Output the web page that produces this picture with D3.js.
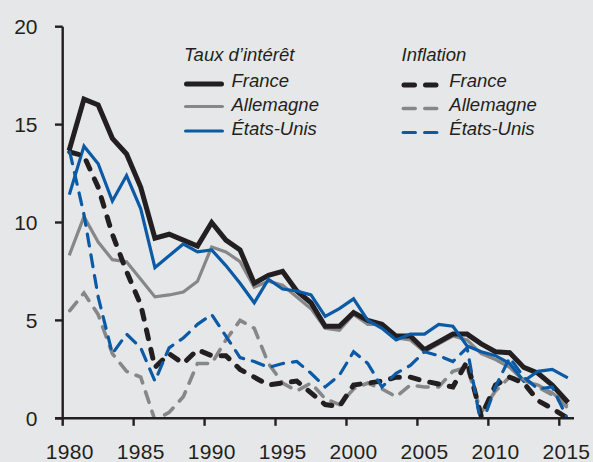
<!DOCTYPE html>
<html>
<head>
<meta charset="utf-8">
<script src="https://cdn.jsdelivr.net/npm/d3@7"></script>
<style>
  html, body { margin: 0; padding: 0; background: #e6e7e8; }
  svg { display: block; }
  text { font-family: "Liberation Sans", Arial, sans-serif; fill: #231f20; }
</style>
</head>
<body>
<svg id="chart" width="593" height="462"></svg>
<script>
const years = d3.range(1980, 2016);
const xTicks = [1980, 1985, 1990, 1995, 2000, 2005, 2010, 2015];
const yTicks = [0, 5, 10, 15, 20];

// Taux d'intérêt (long terme)
const rateFrance    = [13.8, 16.3, 16.0, 14.3, 13.5, 11.8, 9.2, 9.4, 9.1, 8.8, 10.0, 9.1, 8.6, 6.9, 7.3, 7.5, 6.5, 5.9, 4.7, 4.7, 5.4, 5.0, 4.8, 4.2, 4.2, 3.5, 3.9, 4.3, 4.3, 3.8, 3.4, 3.35, 2.6, 2.3, 1.7, 0.9];
const rateAllemagne = [8.4, 10.3, 9.0, 8.1, 8.0, 7.1, 6.2, 6.3, 6.45, 7.0, 8.75, 8.5, 8.0, 6.7, 7.0, 6.8, 6.2, 5.6, 4.6, 4.5, 5.3, 4.8, 4.8, 4.1, 4.0, 3.4, 3.8, 4.2, 4.0, 3.3, 3.0, 2.6, 1.9, 1.7, 1.3, 0.7];
const rateEtatsUnis = [11.5, 13.9, 13.0, 11.1, 12.4, 10.7, 7.7, 8.3, 8.9, 8.5, 8.6, 7.8, 6.9, 5.9, 7.1, 6.6, 6.5, 6.3, 5.2, 5.6, 6.1, 5.0, 4.6, 4.0, 4.3, 4.3, 4.8, 4.7, 3.7, 3.4, 3.2, 2.8, 1.9, 2.4, 2.5, 2.1];

// Inflation
const infFrance     = [13.6, 13.4, 11.8, 9.4, 7.5, 5.8, 2.6, 3.3, 2.8, 3.5, 3.2, 3.2, 2.5, 2.1, 1.7, 1.8, 1.9, 1.3, 0.7, 0.6, 1.7, 1.8, 1.9, 2.1, 2.1, 1.9, 1.75, 1.6, 2.9, 0.1, 1.7, 2.1, 1.8, 0.9, 0.5, 0.05];
const infAllemagne  = [5.5, 6.4, 5.3, 3.3, 2.4, 2.1, -0.1, 0.3, 1.1, 2.8, 2.8, 4.0, 5.0, 4.6, 2.8, 1.8, 1.4, 1.8, 1.0, 0.7, 1.5, 1.8, 1.5, 1.1, 1.7, 1.6, 1.6, 2.4, 2.6, 0.3, 1.4, 2.1, 2.0, 1.6, 1.2, 0.6];
const infEtatsUnis  = [13.6, 10.4, 6.2, 3.3, 4.3, 3.6, 1.9, 3.6, 4.1, 4.8, 5.3, 4.2, 3.1, 2.9, 2.6, 2.8, 2.9, 2.3, 1.6, 2.2, 3.4, 2.8, 1.6, 2.3, 2.7, 3.4, 3.2, 2.9, 3.6, -0.4, 1.6, 3.1, 2.1, 1.5, 1.6, 0.1];

const seriesNames = ["France", "Allemagne", "États-Unis"];
const colors = { "France": "#231f20", "Allemagne": "#878787", "États-Unis": "#0a5aa6" };

const solidStyle = {
  "France":     { width: 5,   dash: null },
  "Allemagne":  { width: 3.2, dash: null },
  "États-Unis": { width: 3.2, dash: null }
};
const dashStyle = {
  "France":     { width: 5,   dash: "9,11" },
  "Allemagne":  { width: 3.6, dash: "11,9.5" },
  "États-Unis": { width: 3.2, dash: "12,9" }
};

const rates = { "France": rateFrance, "Allemagne": rateAllemagne, "États-Unis": rateEtatsUnis };
const infl  = { "France": infFrance,  "Allemagne": infAllemagne,  "États-Unis": infEtatsUnis };

const svg = d3.select("#chart");
svg.append("rect").attr("width", 593).attr("height", 462).attr("fill", "#e6e7e8");

const x = d3.scaleLinear().domain([1980, 2015]).range([62.7, 559.3]);
const y = d3.scaleLinear().domain([0, 20]).range([418.3, 26.7]);

svg.append("defs").append("clipPath").attr("id", "plot")
  .append("rect").attr("x", 55).attr("y", 0).attr("width", 538).attr("height", y(0) - 0);

const line = d3.line().x(d => x(d.year + 0.5)).y(d => y(d.v));

const gLines = svg.append("g").attr("clip-path", "url(#plot)");

function drawSeries(data, style, color, cap) {
  const pts = years.map((yr, i) => ({ year: yr, v: data[i] }));
  gLines.append("path")
    .datum(pts)
    .attr("d", line)
    .attr("fill", "none")
    .attr("stroke", color)
    .attr("stroke-width", style.width)
    .attr("stroke-linejoin", "miter")
    .attr("stroke-miterlimit", 6)
    .attr("stroke-linecap", cap)
    .attr("stroke-dasharray", style.dash);
}

// order: solids then dashed
["Allemagne", "France", "États-Unis"].forEach(n => drawSeries(rates[n], solidStyle[n], colors[n], "square"));
["Allemagne", "France", "États-Unis"].forEach(n => drawSeries(infl[n], dashStyle[n], colors[n], "round"));

// Axes
const axisColor = "#231f20";
const gAxis = svg.append("g");
// y axis line
gAxis.append("line")
  .attr("x1", x(1980)).attr("x2", x(1980))
  .attr("y1", y(20)).attr("y2", y(0))
  .attr("stroke", axisColor).attr("stroke-width", 2.4);
// x axis line
gAxis.append("line")
  .attr("x1", x(1980) - 7.7).attr("x2", x(2016) + 0.5)
  .attr("y1", y(0)).attr("y2", y(0))
  .attr("stroke", axisColor).attr("stroke-width", 2.4);

// y ticks
gAxis.selectAll(".yt").data(yTicks).enter().append("line")
  .attr("x1", x(1980) - 7.7).attr("x2", x(1980))
  .attr("y1", d => y(d)).attr("y2", d => y(d))
  .attr("stroke", axisColor).attr("stroke-width", 2.4);
gAxis.selectAll(".yl").data(yTicks).enter().append("text")
  .attr("x", 37.5).attr("y", d => y(d) + 7.4)
  .attr("text-anchor", "end")
  .attr("font-size", 21)
  .text(d => d);

// x ticks
gAxis.selectAll(".xt").data(xTicks).enter().append("line")
  .attr("x1", d => x(d)).attr("x2", d => x(d))
  .attr("y1", y(0)).attr("y2", y(0) + 7.5)
  .attr("stroke", axisColor).attr("stroke-width", 2.4);
gAxis.selectAll(".xl").data(xTicks).enter().append("text")
  .attr("x", d => x(d + 0.5)).attr("y", 459)
  .attr("text-anchor", "middle")
  .attr("font-size", 21)
  .attr("letter-spacing", 0.3)
  .text(d => d);

// Legend
const gLeg = svg.append("g");
const legFont = 18.5;
const rowY = [84, 106.5, 131];
const rowYd = [85, 108.5, 132.5];
const baseY = [87, 110.5, 134.5];

gLeg.append("text").attr("x", 184).attr("y", 61)
  .attr("font-size", legFont).attr("font-style", "italic")
  .text("Taux d’intérêt");
gLeg.append("text").attr("x", 401.5).attr("y", 61)
  .attr("font-size", legFont).attr("font-style", "italic")
  .text("Inflation");

seriesNames.forEach((n, i) => {
  const s = solidStyle[n];
  gLeg.append("line")
    .attr("x1", 184 + s.width / 2).attr("x2", 224 - s.width / 2)
    .attr("y1", rowY[i]).attr("y2", rowY[i])
    .attr("stroke", colors[n]).attr("stroke-width", s.width)
    .attr("stroke-linecap", "round");
  gLeg.append("text").attr("x", 231.5).attr("y", baseY[i])
    .attr("font-size", legFont).attr("font-style", "italic")
    .text(n);

  const d = dashStyle[n];
  const cap = d.width / 2;
  gLeg.append("line")
    .attr("x1", 401.5 + cap).attr("x2", 438.5 - cap)
    .attr("y1", rowYd[i]).attr("y2", rowYd[i])
    .attr("stroke", colors[n]).attr("stroke-width", d.width)
    .attr("stroke-linecap", "round")
    .attr("stroke-dasharray", `${(37 - 2 * cap - 6 - 2 * cap) / 2},${6 + 2 * cap}`);
  gLeg.append("text").attr("x", 449.3).attr("y", baseY[i])
    .attr("font-size", legFont).attr("font-style", "italic")
    .text(n);
});
</script>
</body>
</html>
